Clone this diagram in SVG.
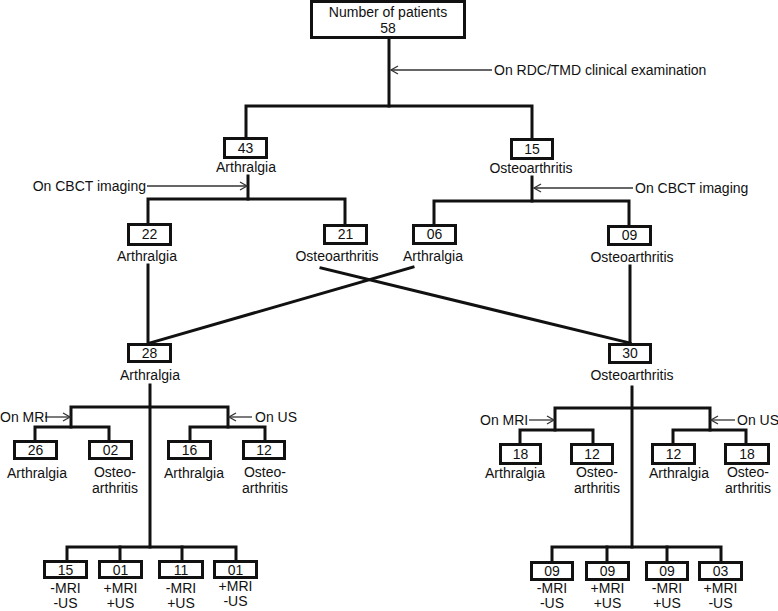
<svg xmlns="http://www.w3.org/2000/svg" width="778" height="611" viewBox="0 0 778 611">
<style>
text{font-family:"Liberation Sans",Arial,sans-serif;font-size:14px;fill:#111;text-anchor:middle}
.s{text-anchor:start}.e{text-anchor:end}
rect{fill:#fff;stroke:#111;stroke-width:3}
.c line,.c polyline{stroke:#111;stroke-width:3;fill:none;stroke-linecap:square}
.a line{stroke:#333;stroke-width:1.3;marker-end:url(#ah)}
</style>
<defs><marker id="ah" markerWidth="10" markerHeight="10" refX="8" refY="5" orient="auto" markerUnits="userSpaceOnUse"><path d="M1,1 L8,5 L1,9" fill="none" stroke="#333" stroke-width="1.3"/></marker></defs>
<g class="c" id="connectors">
<line x1="389" y1="38" x2="389" y2="106"/>
<polyline points="246,137 246,106 532,106 532,138"/>
<line x1="248" y1="176" x2="248" y2="199"/>
<polyline points="148,223 148,199 345,199 345,224"/>
<line x1="532" y1="177" x2="532" y2="201"/>
<polyline points="434,224 434,201 629,201 629,225"/>
<line x1="148" y1="265" x2="148" y2="343"/>
<line x1="413" y1="267" x2="150" y2="343"/>
<line x1="321" y1="268" x2="630" y2="343"/>
<line x1="630" y1="266" x2="630" y2="343"/>
<line x1="150" y1="385" x2="150" y2="547"/>
<polyline points="71,427 71,407 228,407 228,427"/>
<polyline points="35,440 35,427 109,427 109,440"/>
<polyline points="190,440 190,427 265,427 265,440"/>
<polyline points="67,560 67,547 236,547 236,560"/>
<line x1="120" y1="547" x2="120" y2="560"/>
<line x1="182" y1="547" x2="182" y2="560"/>
<line x1="632" y1="387" x2="632" y2="547"/>
<polyline points="555,430 555,408 710,408 710,430"/>
<polyline points="520,443 520,430 593,430 593,443"/>
<polyline points="673,443 673,430 746,430 746,443"/>
<polyline points="552,561 552,547 721,547 721,561"/>
<line x1="607" y1="547" x2="607" y2="561"/>
<line x1="667" y1="547" x2="667" y2="561"/>
</g>
<g class="a" id="arrows">
<line x1="492" y1="70" x2="391" y2="70"/>
<line x1="147" y1="186" x2="247" y2="186"/>
<line x1="633" y1="188" x2="534" y2="188"/>
<line x1="45" y1="417" x2="70" y2="417"/>
<line x1="252" y1="417" x2="229" y2="417"/>
<line x1="529" y1="420" x2="554" y2="420"/>
<line x1="735" y1="420" x2="711" y2="420"/>
</g>
<g id="labels-arrows">
<text class="s" x="494" y="75">On RDC/TMD clinical examination</text>
<text class="e" x="146" y="191">On CBCT imaging</text>
<text class="s" x="635" y="193">On CBCT imaging</text>
<text class="s" x="0" y="422">On MRI</text>
<text class="s" x="255" y="422">On US</text>
<text class="s" x="480" y="425">On MRI</text>
<text class="s" x="737" y="425">On US</text>
</g>
<g id="n-root"><rect x="311.5" y="1.5" width="153" height="36"/><text x="388" y="17">Number of patients</text><text x="388" y="33">58</text></g>
<g id="n-43"><rect x="224.5" y="138.5" width="42" height="19"/><text x="245.5" y="153">43</text><text x="246" y="172">Arthralgia</text></g>
<g id="n-15"><rect x="511.5" y="139.5" width="41" height="19"/><text x="532" y="154">15</text><text x="531" y="173">Osteoarthritis</text></g>
<g id="n-22"><rect x="128.5" y="224.5" width="42" height="20"/><text x="149.5" y="239">22</text><text x="147" y="261">Arthralgia</text></g>
<g id="n-21"><rect x="324.5" y="225.5" width="42" height="18"/><text x="345.5" y="239">21</text><text x="337" y="261">Osteoarthritis</text></g>
<g id="n-06"><rect x="413.5" y="225.5" width="42" height="18"/><text x="434.5" y="239">06</text><text x="433" y="261">Arthralgia</text></g>
<g id="n-09"><rect x="608.5" y="226.5" width="42" height="18"/><text x="629.5" y="240">09</text><text x="632" y="262">Osteoarthritis</text></g>
<g id="n-28"><rect x="128.5" y="344.5" width="42" height="17"/><text x="149.5" y="358">28</text><text x="150" y="380">Arthralgia</text></g>
<g id="n-30"><rect x="609.5" y="344.5" width="41" height="18"/><text x="630" y="358">30</text><text x="632" y="380">Osteoarthritis</text></g>
<g id="n-l26"><rect x="14.5" y="441.5" width="42" height="17"/><text x="35.5" y="455">26</text><text x="37" y="478">Arthralgia</text></g>
<g id="n-l02"><rect x="89.5" y="441.5" width="42" height="17"/><text x="110.5" y="455">02</text><text x="115" y="477">Osteo-</text><text x="115" y="493">arthritis</text></g>
<g id="n-l16"><rect x="168.5" y="441.5" width="42" height="17"/><text x="189.5" y="455">16</text><text x="194" y="478">Arthralgia</text></g>
<g id="n-l12"><rect x="243.5" y="441.5" width="41" height="17"/><text x="264" y="455">12</text><text x="265" y="477">Osteo-</text><text x="265" y="493">arthritis</text></g>
<g id="n-r18"><rect x="500.5" y="444.5" width="40" height="19"/><text x="520.5" y="459">18</text><text x="515" y="478">Arthralgia</text></g>
<g id="n-r12"><rect x="571.5" y="444.5" width="41" height="19"/><text x="592" y="459">12</text><text x="597" y="477">Osteo-</text><text x="597" y="493">arthritis</text></g>
<g id="n-r12b"><rect x="652.5" y="444.5" width="42" height="19"/><text x="673.5" y="459">12</text><text x="679" y="478">Arthralgia</text></g>
<g id="n-r18b"><rect x="725.5" y="444.5" width="43" height="19"/><text x="747" y="459">18</text><text x="748" y="477">Osteo-</text><text x="748" y="493">arthritis</text></g>
<g id="n-b15"><rect x="44.5" y="561.5" width="42" height="16"/><text x="65.5" y="575">15</text><text x="65.5" y="593">-MRI</text><text x="65.5" y="608">-US</text></g>
<g id="n-b01"><rect x="99.5" y="561.5" width="42" height="16"/><text x="120.5" y="575">01</text><text x="120.5" y="593">+MRI</text><text x="120.5" y="608">+US</text></g>
<g id="n-b11"><rect x="159.5" y="561.5" width="43" height="16"/><text x="181" y="575">11</text><text x="181" y="593">-MRI</text><text x="181" y="608">+US</text></g>
<g id="n-b01b"><rect x="214.5" y="561.5" width="42" height="16"/><text x="235.5" y="575">01</text><text x="235.5" y="591">+MRI</text><text x="235.5" y="606">-US</text></g>
<g id="n-c09"><rect x="531.5" y="562.5" width="41" height="17"/><text x="552" y="576">09</text><text x="552" y="593">-MRI</text><text x="552" y="608">-US</text></g>
<g id="n-c09b"><rect x="586.5" y="562.5" width="42" height="17"/><text x="607.5" y="576">09</text><text x="607.5" y="593">+MRI</text><text x="607.5" y="608">+US</text></g>
<g id="n-c09c"><rect x="646.5" y="562.5" width="41" height="17"/><text x="667" y="576">09</text><text x="667" y="593">-MRI</text><text x="667" y="608">+US</text></g>
<g id="n-c03"><rect x="699.5" y="562.5" width="42" height="17"/><text x="720.5" y="576">03</text><text x="720.5" y="593">+MRI</text><text x="720.5" y="608">-US</text></g>
</svg>
